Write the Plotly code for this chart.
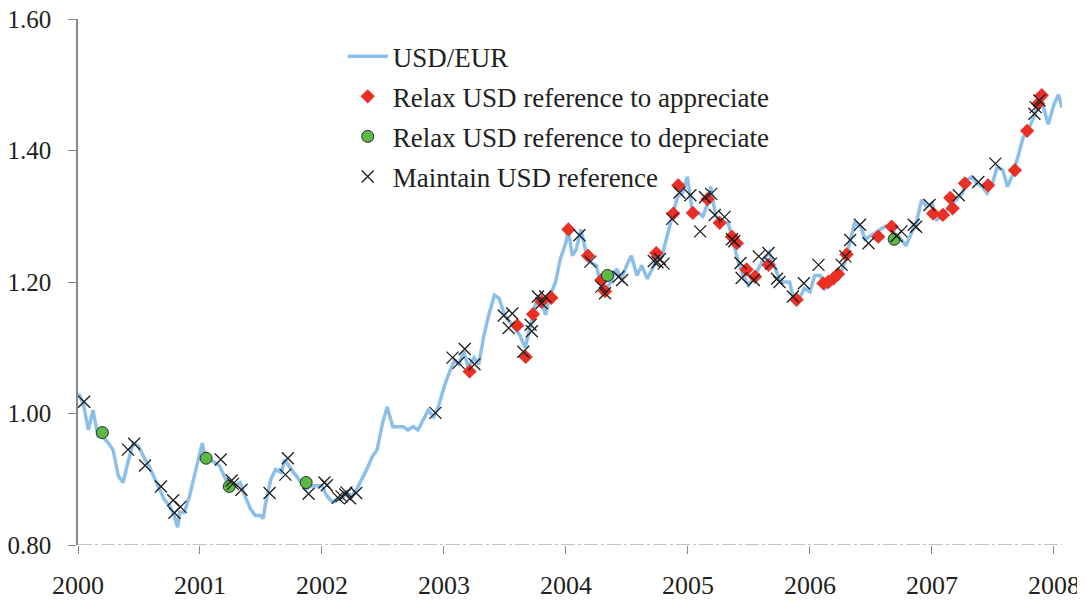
"""
USD/EUR rate with reference-policy decisions, 2000-2008.
"""

import pandas as pd
import plotly.graph_objects as go

# USD/EUR (roughly twice a month)
line_dates = [
    "2000-01-03", "2000-01-17", "2000-02-01", "2000-02-15", "2000-03-01", "2000-03-15",
    "2000-04-01", "2000-04-15", "2000-05-01", "2000-05-15", "2000-06-01", "2000-06-15",
    "2000-07-01", "2000-07-15", "2000-08-01", "2000-08-15", "2000-09-01", "2000-09-15",
    "2000-10-01", "2000-10-15", "2000-10-26", "2000-11-01", "2000-11-15", "2000-12-01",
    "2000-12-15",
    "2001-01-01", "2001-01-08", "2001-01-15", "2001-02-01", "2001-02-15", "2001-03-01",
    "2001-03-15", "2001-04-01", "2001-04-15", "2001-05-01", "2001-05-15", "2001-06-01",
    "2001-06-15", "2001-07-01", "2001-07-09", "2001-07-15", "2001-08-01", "2001-08-15",
    "2001-09-01", "2001-09-12", "2001-10-01", "2001-10-15", "2001-11-01", "2001-11-15",
    "2001-12-01", "2001-12-15",
    "2002-01-01", "2002-01-15", "2002-02-01", "2002-02-15", "2002-03-01", "2002-03-15",
    "2002-04-01", "2002-04-15", "2002-05-01", "2002-05-15", "2002-06-01", "2002-06-15",
    "2002-07-01", "2002-07-15", "2002-08-01", "2002-08-15", "2002-09-01", "2002-09-15",
    "2002-10-01", "2002-10-15", "2002-11-01", "2002-11-15", "2002-12-01", "2002-12-15",
    "2003-01-01", "2003-01-15", "2003-02-01", "2003-02-15", "2003-03-01", "2003-03-15",
    "2003-04-01", "2003-04-15", "2003-05-01", "2003-05-15", "2003-06-01", "2003-06-15",
    "2003-07-01", "2003-07-15", "2003-08-01", "2003-08-15", "2003-09-01", "2003-09-15",
    "2003-10-01", "2003-10-15", "2003-11-01", "2003-11-15", "2003-12-01", "2003-12-15",
    "2004-01-01", "2004-01-08", "2004-01-20", "2004-02-01", "2004-02-15", "2004-03-01",
    "2004-03-15", "2004-04-01", "2004-04-15", "2004-05-01", "2004-05-15", "2004-06-01",
    "2004-06-15", "2004-07-01", "2004-07-15", "2004-08-01", "2004-08-15", "2004-09-01",
    "2004-09-15", "2004-10-01", "2004-10-15", "2004-11-01", "2004-11-15", "2004-12-01",
    "2004-12-15", "2004-12-30",
    "2005-01-15", "2005-02-01", "2005-02-15", "2005-03-01", "2005-03-10", "2005-03-25",
    "2005-04-15", "2005-05-01", "2005-05-15", "2005-06-01", "2005-06-15", "2005-07-01",
    "2005-07-15", "2005-08-01", "2005-08-15", "2005-09-01", "2005-09-15", "2005-10-01",
    "2005-10-15", "2005-11-01", "2005-11-15", "2005-12-01", "2005-12-15",
    "2006-01-01", "2006-01-15", "2006-02-01", "2006-02-15", "2006-03-01", "2006-03-15",
    "2006-04-01", "2006-04-15", "2006-05-01", "2006-05-15", "2006-06-01", "2006-06-15",
    "2006-07-01", "2006-07-15", "2006-08-01", "2006-08-15", "2006-09-01", "2006-09-15",
    "2006-10-01", "2006-10-15", "2006-11-01", "2006-11-15", "2006-12-01", "2006-12-15",
    "2007-01-01", "2007-01-15", "2007-02-01", "2007-02-15", "2007-03-01", "2007-03-15",
    "2007-04-01", "2007-04-15", "2007-05-01", "2007-05-15", "2007-06-01", "2007-06-15",
    "2007-07-01", "2007-07-15", "2007-08-01", "2007-08-15", "2007-09-01", "2007-09-15",
    "2007-10-01", "2007-10-15", "2007-11-01", "2007-11-15", "2007-11-23", "2007-12-01",
    "2007-12-15", "2008-01-01", "2008-01-15", "2008-01-25",
]
line_values = [
    1.030, 1.015, 0.975, 1.005, 0.965, 0.965,
    0.955, 0.945, 0.905, 0.895, 0.930, 0.955,
    0.950, 0.935, 0.920, 0.905, 0.885, 0.870,
    0.860, 0.845, 0.827, 0.850, 0.850, 0.875,
    0.905,
    0.940, 0.955, 0.935, 0.930, 0.925, 0.920,
    0.905, 0.885, 0.890, 0.895, 0.875, 0.855,
    0.845, 0.845, 0.840, 0.860, 0.900, 0.915,
    0.910, 0.930, 0.915, 0.905, 0.895, 0.885,
    0.890, 0.890,
    0.890, 0.875, 0.865, 0.870, 0.870, 0.880,
    0.875, 0.885, 0.900, 0.915, 0.935, 0.945,
    0.985, 1.010, 0.980, 0.980, 0.980, 0.975,
    0.980, 0.975, 0.990, 1.005, 0.995, 1.010,
    1.040, 1.060, 1.080, 1.075, 1.095, 1.070,
    1.085, 1.075, 1.120, 1.150, 1.180, 1.175,
    1.150, 1.140, 1.130, 1.120, 1.100, 1.130,
    1.165, 1.180, 1.150, 1.180, 1.200, 1.235,
    1.260, 1.280, 1.240, 1.250, 1.280, 1.245,
    1.230, 1.225, 1.195, 1.190, 1.200, 1.220,
    1.205, 1.225, 1.240, 1.210, 1.225, 1.205,
    1.220, 1.235, 1.240, 1.275, 1.300, 1.330,
    1.335, 1.360,
    1.305, 1.305, 1.300, 1.320, 1.345, 1.300,
    1.290, 1.290, 1.265, 1.230, 1.210, 1.195,
    1.205, 1.220, 1.235, 1.245, 1.225, 1.205,
    1.200, 1.200, 1.170, 1.175, 1.190,
    1.185, 1.210, 1.210, 1.190, 1.195, 1.210,
    1.210, 1.230, 1.265, 1.290, 1.285, 1.265,
    1.270, 1.275, 1.280, 1.285, 1.285, 1.270,
    1.265, 1.255, 1.275, 1.290, 1.325, 1.315,
    1.320, 1.295, 1.300, 1.310, 1.320, 1.325,
    1.335, 1.355, 1.360, 1.350, 1.345, 1.335,
    1.350, 1.375, 1.370, 1.345, 1.365, 1.390,
    1.420, 1.430, 1.450, 1.470, 1.485, 1.465,
    1.440, 1.470, 1.485, 1.465,
]

# decisions, as (decimal year, rate)
appreciate_t = [
    2003.21, 2003.60, 2003.67, 2003.73, 2003.80, 2003.88, 2004.02, 2004.18, 2004.29,
    2004.32, 2004.74, 2004.88, 2004.92, 2005.04, 2005.16, 2005.26, 2005.36, 2005.40,
    2005.48, 2005.55, 2005.66, 2005.89, 2006.11, 2006.15, 2006.19, 2006.23, 2006.30,
    2006.56, 2006.67, 2007.01, 2007.09, 2007.15, 2007.17, 2007.27, 2007.46, 2007.68,
    2007.78, 2007.87, 2007.90,
]
appreciate_v = [
    1.064, 1.134, 1.086, 1.151, 1.170, 1.176, 1.280, 1.240, 1.203,
    1.186, 1.244, 1.304, 1.347, 1.305, 1.326, 1.290, 1.269, 1.259,
    1.219, 1.208, 1.226, 1.173, 1.198, 1.200, 1.205, 1.212, 1.242,
    1.269, 1.284, 1.304, 1.302, 1.328, 1.312, 1.350, 1.347, 1.370,
    1.430, 1.471, 1.484,
]

depreciate_t = [2000.20, 2001.05, 2001.24, 2001.87, 2004.34, 2006.69]
depreciate_v = [0.971, 0.932, 0.889, 0.895, 1.210, 1.265]

maintain_t = [
    2000.05, 2000.41, 2000.46, 2000.55, 2000.68, 2000.78, 2000.79, 2000.84,
    2001.17, 2001.26, 2001.27, 2001.34, 2001.57, 2001.70, 2001.72, 2001.89,
    2002.02, 2002.04, 2002.13, 2002.16, 2002.19, 2002.20, 2002.23, 2002.28,
    2002.93, 2003.07, 2003.12, 2003.17, 2003.25, 2003.49, 2003.53, 2003.56,
    2003.65, 2003.71, 2003.72, 2003.77, 2003.80, 2003.83, 2004.11, 2004.20,
    2004.29, 2004.32, 2004.43, 2004.46, 2004.72, 2004.75, 2004.77, 2004.80,
    2004.87, 2004.93, 2005.02, 2005.10, 2005.14, 2005.19, 2005.22, 2005.30,
    2005.36, 2005.38, 2005.43, 2005.44, 2005.54, 2005.58, 2005.66, 2005.68,
    2005.73, 2005.75, 2005.86, 2005.95, 2006.07, 2006.26, 2006.29, 2006.33,
    2006.41, 2006.48, 2006.71, 2006.75, 2006.85, 2006.87, 2006.98, 2007.22,
    2007.38, 2007.52, 2007.84, 2007.85, 2007.88,
]
maintain_v = [
    1.018, 0.945, 0.954, 0.921, 0.889, 0.868, 0.849, 0.858,
    0.930, 0.898, 0.893, 0.884, 0.879, 0.907, 0.932, 0.878,
    0.895, 0.891, 0.872, 0.874, 0.877, 0.880, 0.871, 0.879,
    1.001, 1.085, 1.077, 1.098, 1.075, 1.149, 1.130, 1.152,
    1.094, 1.135, 1.125, 1.178, 1.168, 1.178, 1.271, 1.231,
    1.193, 1.183, 1.208, 1.203, 1.232, 1.230, 1.235, 1.228,
    1.296, 1.336, 1.332, 1.277, 1.329, 1.334, 1.302, 1.299,
    1.265, 1.262, 1.229, 1.206, 1.203, 1.239, 1.244, 1.228,
    1.205, 1.200, 1.178, 1.198, 1.226, 1.226, 1.239, 1.264,
    1.287, 1.259, 1.270, 1.277, 1.287, 1.284, 1.317, 1.332,
    1.352, 1.380, 1.456, 1.466, 1.476,
]

year_ticks = list(range(2000, 2009))
rate_ticks = [0.80, 1.00, 1.20, 1.40, 1.60]

FONT = "Liberation Serif"
AXIS_GREY = "#8a8a8a"

d = pd.to_datetime(pd.Series(line_dates))
line_t = d.dt.year + (d.dt.dayofyear - 1) / (365 + d.dt.is_leap_year.astype(int))

fig = go.Figure()
fig.add_trace(go.Scatter(
    x=line_t, y=line_values, mode="lines", name="USD/EUR",
    line=dict(color="#8cc0ea", width=3.5), legendgroup="a",
))
fig.add_trace(go.Scatter(
    x=appreciate_t, y=appreciate_v, mode="markers",
    name="Relax USD reference to appreciate", legendgroup="b",
    marker=dict(symbol="diamond", size=11, color="#ea2f25", line=dict(width=0)),
))
fig.add_trace(go.Scatter(
    x=depreciate_t, y=depreciate_v, mode="markers",
    name="Relax USD reference to depreciate", legendgroup="c",
    marker=dict(symbol="circle", size=12, color="#5cb946",
                line=dict(color="#2a2a2a", width=1)),
))
fig.add_trace(go.Scatter(
    x=maintain_t, y=maintain_v, mode="markers",
    name="Maintain USD reference", legendgroup="d",
    marker=dict(symbol="x-thin-open", size=12, color="#1e1e1e",
                line=dict(color="#1e1e1e", width=1.3)),
))

# bottom axis line drawn as a broken grey line, like the original
fig.add_shape(type="line", xref="paper", yref="y", x0=0, x1=1, y0=0.80, y1=0.80,
              line=dict(color=AXIS_GREY, width=1.2, dash="14px,3px,3px,3px"))

# the page puts the figure 8px in from the top-left corner, so it is 8px smaller
fig.update_layout(
    width=1077, height=595,
    margin=dict(l=70, r=23, t=11, b=58),
    plot_bgcolor="white", paper_bgcolor="white",
    font=dict(family=FONT, size=26, color="#231f20"),
    showlegend=True,
    legend=dict(x=0.269, y=0.975, xanchor="left", yanchor="top",
                bgcolor="rgba(0,0,0,0)", font=dict(size=27),
                tracegroupgap=2, itemwidth=40),
)
fig.update_xaxes(
    range=[2000, 2008.066], tickvals=year_ticks, ticktext=[str(y) for y in year_ticks],
    showgrid=False, zeroline=False, showline=False, automargin=False,
    ticks="outside", ticklen=8, tickcolor=AXIS_GREY, tickwidth=1.2,
    ticklabelstandoff=9, ticklabeloverflow="allow",
)
fig.update_yaxes(
    range=[0.80, 1.60], tickvals=rate_ticks, tickformat=".2f",
    showgrid=False, zeroline=False, showline=True, linecolor=AXIS_GREY, linewidth=1.5,
    automargin=False, tickfont=dict(size=25),
    ticks="outside", ticklen=8, tickcolor=AXIS_GREY, tickwidth=1.2,
    ticklabelstandoff=12, ticklabeloverflow="allow",
)

fig.write_html("out.html")
